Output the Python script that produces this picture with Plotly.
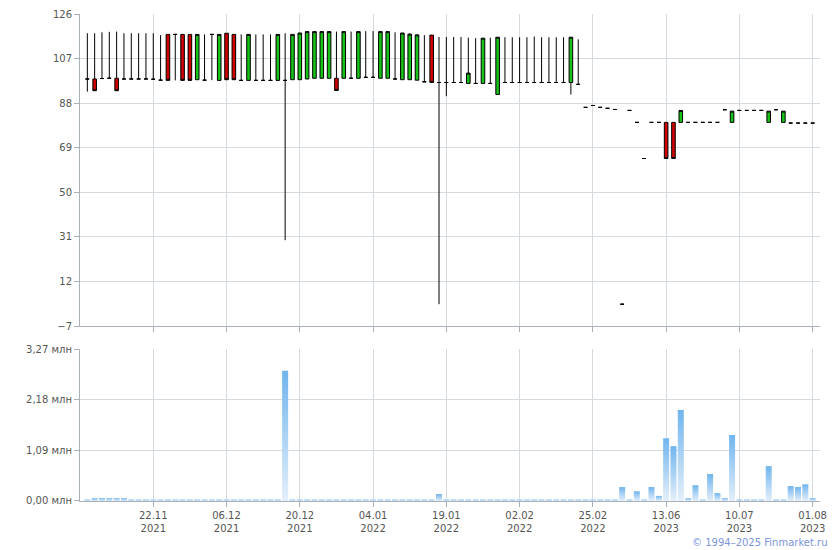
import plotly.graph_objects as go

# ---- data ----
open_ = [98.3, 98.3, 98.5, 98.6, 98.6, 98.3, 98.3, 98.3, 98.3, 98.2,
         97.8, 117.3, 117.3, 117.3, 117.3, 98.0, 97.8, 117.3, 97.7, 117.8,
         117.3, 97.7, 97.7, 97.7, 97.7, 97.7, 97.7, 97.7, 98.0, 98.0,
         98.3, 98.6, 98.6, 98.6, 98.6, 98.6, 98.6, 98.6, 99.0, 99.0,
         98.6, 98.6, 98.3, 98.0, 98.0, 97.8, 97.1, 117.0, 96.8, 96.8,
         96.8, 96.8, 96.4, 96.4, 96.4, 96.4, 91.7, 96.8, 96.8, 96.8,
         96.8, 96.8, 96.8, 96.8, 96.8, 96.8, 96.8, 96.0, 86.2, 87.0,
         86.2, 85.8, 85.3, 2.3, 84.9, 79.8, 64.4, 79.8, 79.8, 79.8,
         79.8, 79.8, 79.8, 79.8, 79.8, 79.8, 79.8, 85.2, 79.8, 84.9,
         84.9, 84.9, 84.9, 79.8, 85.2, 79.8, 79.5, 79.5, 79.5, 79.5]
high = [117.8, 117.8, 118.2, 118.4, 118.5, 117.8, 117.8, 117.8, 117.8, 117.8,
        117.0, 117.3, 117.3, 117.3, 117.3, 117.3, 117.3, 117.3, 117.3, 117.8,
        117.3, 117.3, 117.3, 117.3, 117.3, 117.3, 117.3, 117.8, 117.3, 117.9,
        118.5, 118.5, 118.5, 118.5, 118.5, 118.5, 118.5, 118.5, 118.7, 118.7,
        118.7, 118.5, 118.2, 117.9, 117.8, 117.4, 117.0, 117.0, 116.2, 116.2,
        116.2, 116.2, 115.9, 115.7, 115.7, 115.9, 116.1, 116.1, 116.1, 116.1,
        116.1, 116.4, 116.1, 116.1, 116.1, 116.1, 116.1, 115.2, 86.2, 87.0,
        86.2, 85.8, 85.3, 2.3, 84.9, 79.8, 64.4, 79.8, 79.8, 79.8,
        79.8, 84.9, 79.8, 79.8, 79.8, 79.8, 79.8, 85.2, 84.6, 84.9,
        84.9, 84.9, 84.9, 84.6, 85.2, 84.6, 79.5, 79.5, 79.5, 79.5]
low = [92.9, 93.3, 98.5, 98.6, 93.3, 98.3, 98.3, 98.3, 98.3, 98.2,
       97.8, 97.7, 97.7, 97.7, 97.7, 98.0, 97.8, 97.8, 97.7, 98.0,
       98.0, 97.7, 97.7, 97.7, 97.7, 97.7, 97.7, 29.6, 98.0, 98.0,
       98.3, 98.6, 98.6, 98.6, 93.4, 98.6, 98.6, 98.6, 99.0, 99.0,
       98.6, 98.6, 98.3, 98.0, 98.0, 97.8, 97.1, 96.8, 2.3, 91.0,
       96.8, 96.8, 96.4, 96.4, 96.4, 96.4, 91.7, 96.8, 96.8, 96.8,
       96.8, 96.8, 96.8, 96.8, 96.8, 96.8, 91.7, 96.0, 86.2, 87.0,
       86.2, 85.8, 85.3, 2.3, 84.9, 79.8, 64.4, 79.8, 79.8, 64.4,
       64.4, 79.8, 79.8, 79.8, 79.8, 79.8, 79.8, 85.2, 79.8, 84.9,
       84.9, 84.9, 84.9, 79.8, 85.2, 79.8, 79.5, 79.5, 79.5, 79.5]
close = [98.3, 93.3, 98.5, 98.6, 93.3, 98.3, 98.3, 98.3, 98.3, 98.2,
         97.8, 97.7, 117.3, 97.7, 97.7, 117.3, 97.8, 117.3, 117.3, 98.0,
         98.0, 97.7, 117.3, 97.7, 97.7, 97.7, 117.3, 97.7, 117.3, 117.9,
         118.5, 118.5, 118.5, 118.5, 93.4, 118.5, 98.6, 118.5, 99.0, 99.0,
         118.5, 118.5, 98.3, 117.9, 117.4, 117.1, 97.1, 96.8, 96.8, 96.8,
         96.8, 96.8, 100.8, 96.4, 115.7, 96.4, 116.1, 96.8, 96.8, 96.8,
         96.8, 96.8, 96.8, 96.8, 96.8, 96.8, 116.1, 96.0, 86.2, 87.0,
         86.2, 85.8, 85.3, 2.3, 84.9, 79.8, 64.4, 79.8, 79.8, 64.4,
         64.4, 84.9, 79.8, 79.8, 79.8, 79.8, 79.8, 85.2, 84.6, 84.9,
         84.9, 84.9, 84.9, 84.6, 85.2, 84.6, 79.5, 79.5, 79.5, 79.5]
volume_mln = [0.03, 0.06, 0.06, 0.06, 0.06, 0.06, 0.03, 0.03, 0.03, 0.03,
              0.03, 0.03, 0.03, 0.03, 0.03, 0.03, 0.03, 0.03, 0.03, 0.03,
              0.03, 0.03, 0.03, 0.03, 0.03, 0.03, 0.03, 2.80, 0.03, 0.03,
              0.03, 0.03, 0.03, 0.03, 0.03, 0.03, 0.03, 0.03, 0.03, 0.03,
              0.03, 0.03, 0.03, 0.03, 0.03, 0.03, 0.03, 0.03, 0.15, 0.03,
              0.03, 0.03, 0.03, 0.03, 0.03, 0.03, 0.03, 0.03, 0.03, 0.03,
              0.03, 0.03, 0.03, 0.03, 0.03, 0.03, 0.03, 0.03, 0.03, 0.03,
              0.03, 0.03, 0.03, 0.30, 0.03, 0.21, 0.03, 0.30, 0.11, 1.35,
              1.18, 1.96, 0.06, 0.34, 0.03, 0.58, 0.17, 0.06, 1.42, 0.03,
              0.03, 0.03, 0.03, 0.75, 0.03, 0.03, 0.32, 0.30, 0.36, 0.06]
tick_positions = [9, 19, 29, 39, 49, 59, 69, 79, 89, 99]
tick_labels = ["22.11<br>2021", "06.12<br>2021", "20.12<br>2021", "04.01<br>2022",
               "19.01<br>2022", "02.02<br>2022", "25.02<br>2022", "13.06<br>2023",
               "10.07<br>2023", "01.08<br>2023"]
price_ticks = [-7, 12, 31, 50, 69, 88, 107, 126]
volume_ticks = [0, 1.09, 2.18, 3.27]
volume_tick_labels = ["0,00 млн", "1,09 млн", "2,18 млн", "3,27 млн"]

x = list(range(len(open_)))

GRID = "#d5dade"
AXIS = "#a9b0b8"
FONT = dict(family="DejaVu Sans, Verdana, sans-serif", size=10, color="#555555")

fig = go.Figure()

fig.add_trace(go.Candlestick(
    x=x, open=open_, high=high, low=low, close=close,
    xaxis="x", yaxis="y",
    increasing=dict(line=dict(color="black", width=1), fillcolor="#15c215"),
    decreasing=dict(line=dict(color="black", width=1), fillcolor="#d00000"),
    whiskerwidth=0, showlegend=False, hoverinfo="skip",
))

half = 0.41
for i, v in zip(x, volume_mln):
    fig.add_trace(go.Scatter(
        x=[i - half, i - half, i + half, i + half, i - half],
        y=[0, v, v, 0, 0],
        mode="lines", fill="toself",
        line=dict(width=0, color="rgba(0,0,0,0)"),
        fillgradient=dict(type="vertical",
                          colorscale=[[0, "#e4effa"], [1, "#70b5ee"]]),
        xaxis="x2", yaxis="y2", showlegend=False, hoverinfo="skip",
    ))

common_x = dict(range=[-1, 100], tickvals=tick_positions, showgrid=True,
                gridcolor=GRID, gridwidth=1, zeroline=False, showline=True,
                linecolor=AXIS, linewidth=1, ticks="outside", ticklen=5,
                tickcolor=AXIS, automargin=False)

fig.update_layout(
    width=832, height=542,
    margin=dict(l=72, r=20, t=6, b=49, autoexpand=False),
    paper_bgcolor="white", plot_bgcolor="white",
    font=FONT,
    showlegend=False,
    xaxis=dict(common_x, domain=[0, 1], anchor="y", showticklabels=False,
               rangeslider=dict(visible=False)),
    yaxis=dict(domain=[0.3593, 1], range=[-7, 126], tickvals=price_ticks,
               showgrid=True, gridcolor=GRID, zeroline=False, showline=True,
               linecolor=AXIS, ticks="outside", ticklen=5, tickcolor=AXIS,
               automargin=False),
    xaxis2=dict(common_x, domain=[0, 1], anchor="y2", ticktext=tick_labels),
    yaxis2=dict(domain=[0, 0.3121], range=[0, 3.27], tickvals=volume_ticks,
                ticktext=volume_tick_labels, showgrid=True, gridcolor=GRID,
                zeroline=False, showline=True, linecolor=AXIS, ticks="outside",
                ticklen=5, tickcolor=AXIS, automargin=False),
    annotations=[dict(text="© 1994–2025 Finmarket.ru", xref="paper", yref="paper",
                      x=1.0135, y=-0.086, xanchor="right", yanchor="middle",
                      showarrow=False,
                      font=dict(family="DejaVu Sans, Verdana, sans-serif",
                                size=10, color="#7b95df"))],
)

fig.write_html("out.html")
